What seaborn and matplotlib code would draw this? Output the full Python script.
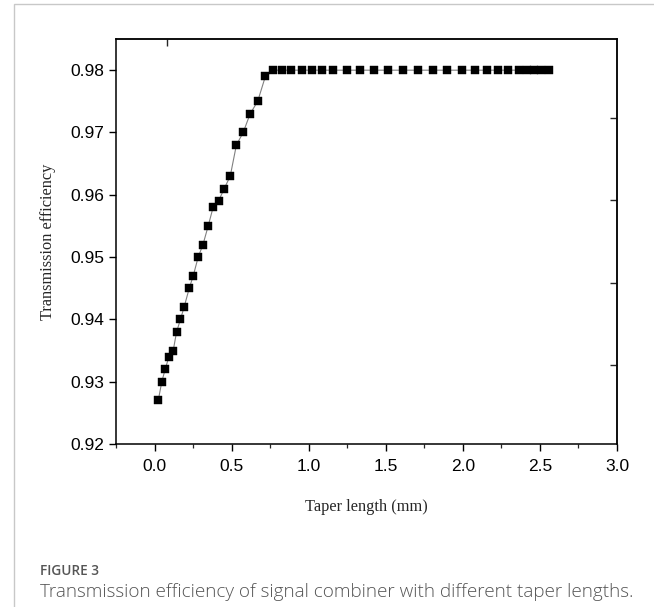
import matplotlib
matplotlib.use("Agg")
import matplotlib.pyplot as plt
import seaborn as sns
import pandas as pd
from matplotlib.ticker import MultipleLocator, FixedLocator, NullFormatter
from matplotlib.patches import Rectangle

# ---- data ----
taper_length = [0.024, 0.047, 0.069, 0.093, 0.121, 0.143, 0.168, 0.192, 0.225, 0.251,
                0.283, 0.314, 0.348, 0.380, 0.415, 0.452, 0.491, 0.531, 0.575, 0.620,
                0.669, 0.719, 0.771, 0.830, 0.888, 0.959, 1.024, 1.089, 1.160, 1.251,
                1.335, 1.426, 1.516, 1.614, 1.711, 1.808, 1.899, 1.996, 2.080, 2.158,
                2.229, 2.294, 2.366, 2.417, 2.463, 2.508, 2.560]
efficiency = [0.927, 0.930, 0.932, 0.934, 0.935, 0.938, 0.940, 0.942, 0.945, 0.947,
              0.950, 0.952, 0.955, 0.958, 0.959, 0.961, 0.963, 0.968, 0.970, 0.973,
              0.975, 0.979, 0.980, 0.980, 0.980, 0.980, 0.980, 0.980, 0.980, 0.980,
              0.980, 0.980, 0.980, 0.980, 0.980, 0.980, 0.980, 0.980, 0.980, 0.980,
              0.980, 0.980, 0.980, 0.980, 0.980, 0.980, 0.980]
x_ticks = [0.0, 0.5, 1.0, 1.5, 2.0, 2.5, 3.0]
y_ticks = [0.92, 0.93, 0.94, 0.95, 0.96, 0.97, 0.98]
right_ticks = [0.9327, 0.9459, 0.9591, 0.9723]
top_ticks = [0.08]

df = pd.DataFrame({"x": taper_length, "y": efficiency})

sns.set_style("white")
plt.rcParams["font.family"] = ["Liberation Sans", "DejaVu Sans"]

fig = plt.figure(figsize=(6.54, 6.07), dpi=100)
ax = fig.add_axes([0.1774, 0.2685, 0.9434 - 0.1774, 0.9357 - 0.2685])

sns.lineplot(data=df, x="x", y="y", ax=ax, color="#808080", linewidth=0.8,
             marker="s", markersize=6.2, markerfacecolor="black",
             markeredgecolor="black", markeredgewidth=0.3)

ax.set_xlim(-0.25, 3.0)
ax.set_ylim(0.92, 0.985)
ax.xaxis.set_major_locator(FixedLocator(x_ticks))
ax.xaxis.set_minor_locator(MultipleLocator(0.25))
ax.yaxis.set_major_locator(FixedLocator(y_ticks))
ax.set_xticklabels([f"{v:.1f}" for v in x_ticks])
ax.set_yticklabels([f"{v:.2f}" for v in y_ticks])

for s in ax.spines.values():
    s.set_color("black")
    s.set_linewidth(1.1)

ax.tick_params(axis="both", which="major", direction="out", length=5, width=1.0,
               labelsize=12.5, colors="black", bottom=True, left=True, top=False, right=False)
ax.tick_params(axis="x", which="minor", direction="out", length=3, width=0.9,
               bottom=True, top=False)
ax.tick_params(axis="x", which="major", pad=6)

# opposite-axis ticks (inward)
secy = ax.secondary_yaxis("right")
secy.yaxis.set_major_locator(FixedLocator(right_ticks))
secy.yaxis.set_major_formatter(NullFormatter())
secy.tick_params(direction="in", length=5, width=1.0)
secy.spines["right"].set_linewidth(1.1)
secx = ax.secondary_xaxis("top")
secx.xaxis.set_major_locator(FixedLocator(top_ticks))
secx.xaxis.set_major_formatter(NullFormatter())
secx.tick_params(direction="in", length=5, width=1.0)
secx.spines["top"].set_linewidth(1.1)

ax.set_xlabel("Taper length (mm)", family=["Liberation Serif", "DejaVu Serif"],
              fontsize=11.8, labelpad=18)
ax.set_ylabel("Transmission efficiency", family=["Liberation Serif", "DejaVu Serif"],
              fontsize=11.8, labelpad=10)

# card frame
fig.add_artist(Rectangle((14 / 654, -0.1), 1.2, 1 - 4 / 607 + 0.1,
                         transform=fig.transFigure, fill=False,
                         edgecolor="#c8c8c8", linewidth=1.0))

fig.text(40 / 654, 1 - 571 / 607, "FIGURE 3", family=["Open Sans", "DejaVu Sans"],
         fontsize=9.8, color="#555555", va="center", ha="left", fontweight="semibold")
fig.text(40 / 654, 1 - 592 / 607,
         "Transmission efficiency of signal combiner with different taper lengths.",
         family=["Open Sans", "DejaVu Sans"], fontsize=13.55, color="#555555",
         va="center", ha="left", fontweight="light")

fig.savefig("out.png", dpi=100)
